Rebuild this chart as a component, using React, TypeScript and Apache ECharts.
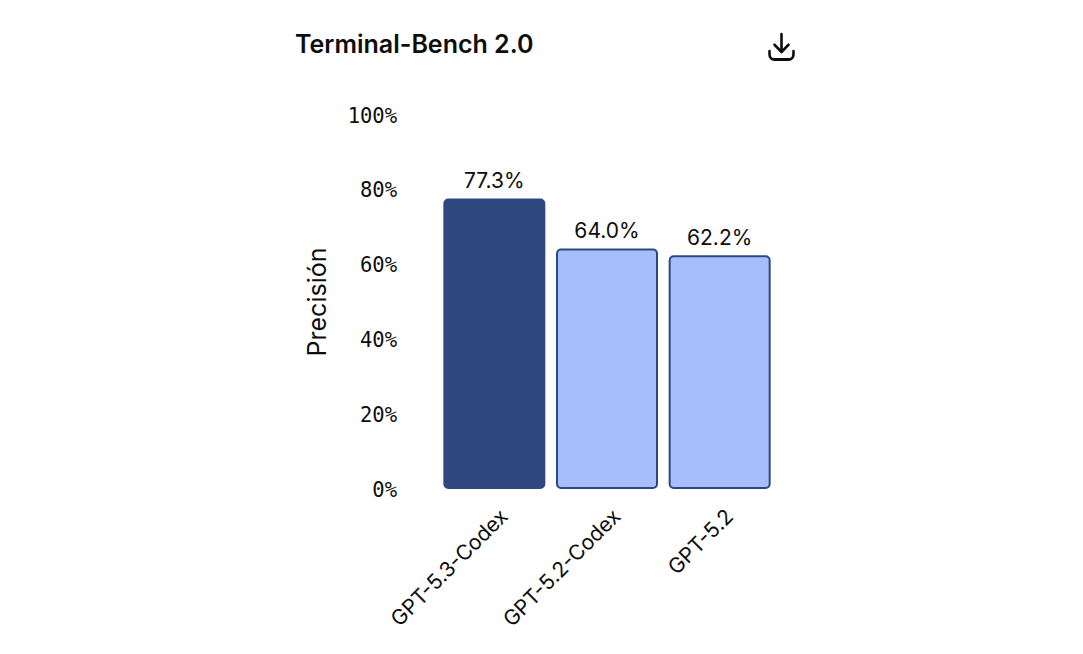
import React, { useEffect, useRef } from "react";
import * as echarts from "echarts";

const title = "Terminal-Bench 2.0";
const yAxisName = "Precisión";
const categories = ["GPT-5.3-Codex", "GPT-5.2-Codex", "GPT-5.2"];
const values = [77.3, 64.0, 62.2];
const highlighted = [true, false, false];

const iconPath = "M13 1L13 18M6 11L13 18L20 11M1 17L1 20C1 23 3 25 6 25L20 25C23 25 25 23 25 20L25 17";
echarts.graphic.registerShape("downloadIcon", echarts.graphic.extendPath(iconPath, {}) as any);

export default function App() {
  const ref = useRef<HTMLDivElement>(null);
  useEffect(() => {
    const chart = echarts.init(ref.current!, null, { renderer: "svg" });
    chart.setOption({
      animation: false,
      backgroundColor: "#ffffff",
      grid: { left: 438, right: 307, top: 115, bottom: 165, containLabel: false },
      graphic: [
        {
          type: "text",
          x: 295,
          y: 31,
          style: { text: title, font: '600 25px Inter', fill: "#0d0d0d" },
        },
        {
          type: "downloadIcon",
          x: 768.5,
          y: 33,
          scaleY: 1.06,
          style: { stroke: "#0d0d0d", fill: "none", lineWidth: 2.6, lineCap: "round", lineJoin: "round" },
        },
      ],
      xAxis: {
        type: "category",
        data: categories,
        axisLine: { show: false },
        axisTick: { show: false },
        axisLabel: {
          rotate: 45,
          interval: 0,
          margin: 14,
          verticalAlign: "top",
          lineHeight: 27,
          color: "#0d0d0d",
          fontFamily: "Inter",
          fontSize: 21,
        },
      },
      yAxis: [
        {
          type: "value",
          min: 0,
          max: 100,
          interval: 20,
          name: yAxisName,
          nameLocation: "middle",
          nameGap: 109,
          nameRotate: 90,
          nameTextStyle: { color: "#0d0d0d", fontFamily: "Inter", fontSize: 25 },
          axisLine: { show: false },
          axisTick: { show: false },
          splitLine: { show: false },
          axisLabel: {
            margin: 41,
            formatter: "{value}%",
            color: "#0d0d0d",
            fontFamily: "DejaVu Sans Mono",
            fontSize: 20.5,
            verticalAlign: "top",
            lineHeight: 25,
            padding: [-12, 0, 0, 0],
          },
        },
        { type: "value", min: 0, max: 99.5, show: false, splitLine: { show: false } },
      ],
      series: [
        {
          type: "bar",
          yAxisIndex: 1,
          barWidth: 102,
          data: values.map((v, i) => ({
            value: v,
            itemStyle: {
              color: highlighted[i] ? "#2E487F" : "#A5BEFC",
              borderColor: "#2E487F",
              borderWidth: 2,
              borderRadius: 4,
            },
          })),
          label: {
            show: true,
            position: "top",
            distance: 7,
            formatter: (p: any) => `${p.value.toFixed(1)}%`,
            color: "#0d0d0d",
            fontFamily: "Inter",
            fontSize: 21,
          },
        },
      ],
    });
    return () => chart.dispose();
  }, []);
  return (
    <div
      ref={ref}
      style={{ position: "fixed", left: 0, top: 0, width: 1083, height: 654 }}
    />
  );
}
